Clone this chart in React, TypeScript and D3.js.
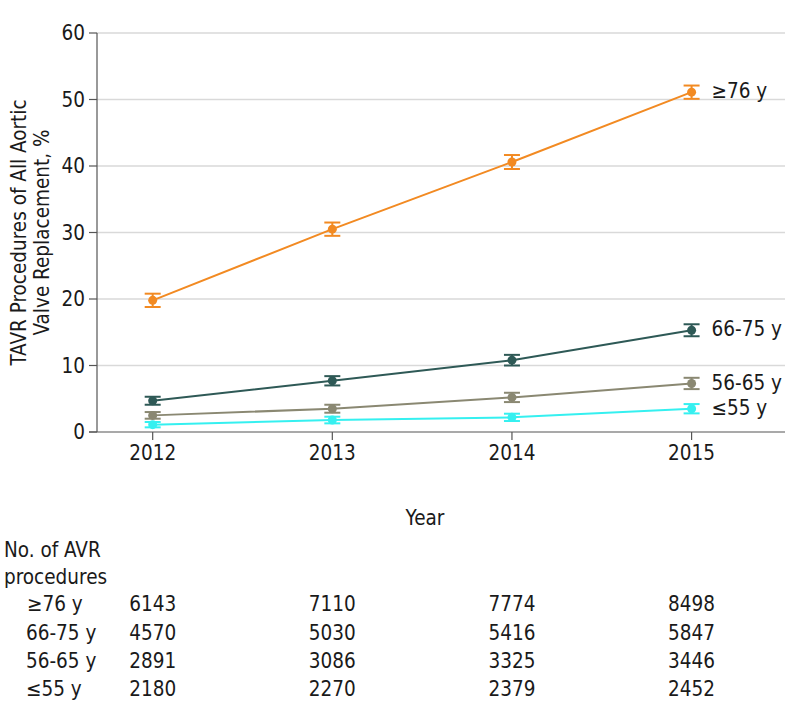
import React from "react";
import * as d3 from "d3";

const years = [2012, 2013, 2014, 2015];
const seriesNames = ["≥76 y", "66-75 y", "56-65 y", "≤55 y"];
const seriesColors = ["#F28A22", "#2E5956", "#8A8872", "#35F0F0"];
const valsOld = [19.8, 30.5, 40.6, 51.1];
const errOld = [1.0, 1.0, 1.05, 1.0];
const vals6675 = [4.7, 7.7, 10.8, 15.3];
const err6675 = [0.6, 0.7, 0.8, 0.9];
const vals5665 = [2.5, 3.5, 5.2, 7.3];
const err5665 = [0.5, 0.6, 0.7, 0.85];
const vals55 = [1.1, 1.8, 2.2, 3.5];
const err55 = [0.4, 0.5, 0.55, 0.7];
const yTicks = [0, 10, 20, 30, 40, 50, 60];
const countsOld = [6143, 7110, 7774, 8498];
const counts6675 = [4570, 5030, 5416, 5847];
const counts5665 = [2891, 3086, 3325, 3446];
const counts55 = [2180, 2270, 2379, 2452];

const seriesVals = [valsOld, vals6675, vals5665, vals55];
const seriesErr = [errOld, err6675, err5665, err55];
const seriesCounts = [countsOld, counts6675, counts5665, counts55];

const W = 794;
const H = 717;
const left = 97;
const right = 785;
const top = 33;
const bottom = 432;
const FONT = "'DejaVu Sans Condensed', 'DejaVu Sans', sans-serif";

export default function App() {
  const x = d3.scaleLinear().domain([2011.69, 2015.52]).range([left, right]);
  const y = d3.scaleLinear().domain([0, 60]).range([bottom, top]);
  const line = d3
    .line<number>()
    .x((_, i) => x(years[i]))
    .y((d) => y(d));

  const fs = 20.5;
  const rowY = [604, 633, 661, 689];

  return (
    <div style={{ position: "absolute", left: 0, top: 0 }}>
      <svg width={W} height={H} style={{ display: "block", fontFamily: FONT, fontStretch: "condensed" }}>
        <rect width={W} height={H} fill="#fff" />
        {/* gridlines */}
        {yTicks.filter((t) => t > 0).map((t) => (
          <line key={t} x1={left} x2={right} y1={y(t)} y2={y(t)} stroke="#d9d9d9" strokeWidth={1.5} />
        ))}
        {/* y axis */}
        <line x1={left} x2={left} y1={top} y2={bottom} stroke="#555" strokeWidth={1.2} />
        {yTicks.map((t) => (
          <g key={t}>
            <line x1={left - 8} x2={left} y1={y(t)} y2={y(t)} stroke="#555" strokeWidth={1.2} />
            <text x={left - 12} y={y(t)} dy="0.36em" textAnchor="end" fontSize={fs} fill="#1a1a1a">
              {t}
            </text>
          </g>
        ))}
        {/* x axis */}
        <line x1={left - 8} x2={right} y1={bottom} y2={bottom} stroke="#555" strokeWidth={1.2} />
        {years.map((yr) => (
          <g key={yr}>
            <line x1={x(yr)} x2={x(yr)} y1={bottom} y2={bottom + 8} stroke="#555" strokeWidth={1.2} />
            <text x={x(yr)} y={bottom + 28} textAnchor="middle" fontSize={fs} fill="#1a1a1a">
              {yr}
            </text>
          </g>
        ))}
        {/* y title */}
        <g transform={`translate(19, ${(top + bottom) / 2}) rotate(-90)`}>
          <text x={0} y={0} dy="0.35em" textAnchor="middle" fontSize={fs} fill="#1a1a1a">
            TAVR Procedures of All Aortic
          </text>
          <text x={0} y={23} dy="0.35em" textAnchor="middle" fontSize={fs} fill="#1a1a1a">
            Valve Replacement, %
          </text>
        </g>
        {/* series */}
        {seriesVals.map((vals, si) => {
          const c = seriesColors[si];
          return (
            <g key={si}>
              <path d={line(vals) || ""} fill="none" stroke={c} strokeWidth={2} />
              {vals.map((v, i) => {
                const cx = x(years[i]);
                const e = seriesErr[si][i];
                return (
                  <g key={i}>
                    <line x1={cx} x2={cx} y1={y(v - e)} y2={y(v + e)} stroke={c} strokeWidth={2} />
                    <line x1={cx - 8} x2={cx + 8} y1={y(v - e)} y2={y(v - e)} stroke={c} strokeWidth={2} />
                    <line x1={cx - 8} x2={cx + 8} y1={y(v + e)} y2={y(v + e)} stroke={c} strokeWidth={2} />
                    <circle cx={cx} cy={y(v)} r={4.5} fill={c} />
                  </g>
                );
              })}
              <text x={x(years[3]) + 20} y={y(vals[3])} dy="0.3em" fontSize={fs} fill="#1a1a1a">
                {seriesNames[si]}
              </text>
            </g>
          );
        })}
        {/* x title */}
        <text x={(left + right) / 2 - 16} y={518} dy="0.35em" textAnchor="middle" fontSize={fs} fill="#1a1a1a">
          Year
        </text>
        {/* table */}
        <text x={4} y={550} dy="0.35em" fontSize={fs} fill="#1a1a1a">
          No. of AVR
        </text>
        <text x={4} y={577} dy="0.35em" fontSize={fs} fill="#1a1a1a">
          procedures
        </text>
        {seriesNames.map((n, si) => (
          <g key={n}>
            <text x={si === 0 ? 27 : 26} y={rowY[si]} dy="0.35em" fontSize={fs} fill="#1a1a1a">
              {n}
            </text>
            {seriesCounts[si].map((c, i) => (
              <text key={i} x={x(years[i])} y={rowY[si]} dy="0.35em" textAnchor="middle" fontSize={fs} fill="#1a1a1a">
                {c}
              </text>
            ))}
          </g>
        ))}
      </svg>
    </div>
  );
}
